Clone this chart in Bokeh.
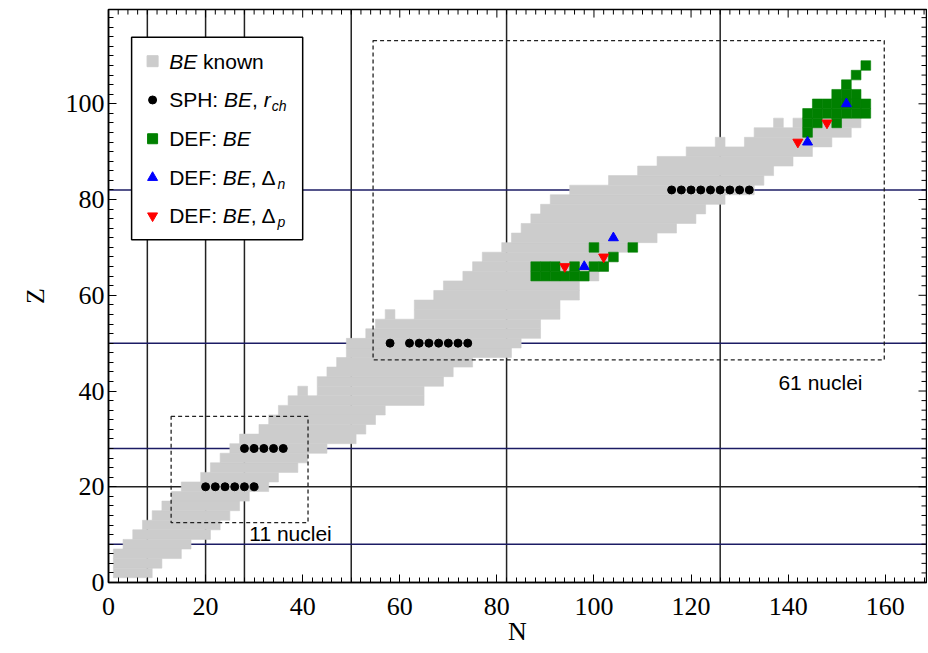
from bokeh.plotting import figure
from bokeh.models import Range1d, SingleIntervalTicker, Label, Span
from bokeh.embed import file_html
from bokeh.resources import INLINE

# ---------------- data ----------------
# known binding energies (even-even): one row per Z, N from band_Nmin to band_Nmax
band_Z = [2, 4, 6, 8, 10, 12, 14, 16, 18, 20, 22, 24, 26, 28, 30, 32, 34, 36, 38, 40,
          42, 44, 46, 48, 50, 52, 54, 56, 58, 60, 62, 64, 66, 68, 70, 72, 74, 76, 78, 80,
          82, 84, 86, 88, 90, 92, 94, 96]
band_Nmin = [2, 2, 2, 4, 6, 8, 10, 12, 14, 16, 20, 22, 24, 26, 28, 32, 34, 36, 38, 44,
             44, 46, 48, 50, 50, 54, 56, 64, 64, 68, 70, 74, 76, 78, 82, 84, 86, 88, 90, 92,
             96, 104, 110, 114, 120, 132, 134, 142]
band_Nmax = [8, 10, 14, 16, 20, 22, 24, 26, 28, 32, 34, 38, 40, 44, 50, 52, 54, 56, 64, 64,
             68, 70, 74, 82, 84, 88, 88, 92, 92, 96, 96, 100, 102, 104, 106, 112, 116, 120, 122, 126,
             132, 134, 136, 140, 144, 148, 152, 154]
# isolated known nuclei off the rows above
extra_N = [40, 58, 126, 138]
extra_Z = [40, 56, 92, 96]

# SPH: BE, r_ch
sph_N = [20, 22, 24, 26, 28, 30,
         28, 30, 32, 34, 36,
         58, 62, 64, 66, 68, 70, 72, 74,
         116, 118, 120, 122, 124, 126, 128, 130, 132]
sph_Z = [20] * 6 + [28] * 5 + [50] * 8 + [82] * 9

# DEF: BE
def_N = [88, 90, 92, 94, 96, 98,
         88, 90, 92, 96, 100, 102,
         104,
         100, 108,
         144,
         144, 146, 150,
         144, 146, 148, 150, 152, 154, 156,
         146, 148, 150, 152, 154, 156,
         150, 152, 154,
         152, 154, 156]
def_Z = ([64] * 6 + [66] * 6 + [68] + [70] * 2 + [94] + [96] * 3 + [98] * 7 +
         [100] * 6 + [102] * 3 + [104, 106, 108])

# DEF: BE, Delta_n  and  DEF: BE, Delta_p
dn_N = [98, 104, 144, 152]
dn_Z = [66, 72, 92, 100]
dp_N = [94, 102, 142, 148]
dp_Z = [66, 68, 92, 96]

# magic numbers
magic_N = [8, 20, 28, 50, 82, 126]
magic_Z_navy = [8, 28, 50, 82]
magic_Z_black = [20]

# fitted regions
box_left = [12.9, 54.5]
box_right = [41.1, 159.8]
box_bottom = [12.5, 46.5]
box_top = [34.7, 113.2]
box_labels = ["11 nuclei", "61 nuclei"]

TICK_STEP = 20
MINOR_STEP = 2

# ---------------- figure ----------------
X_MAX, Y_MAX = 168.5, 119.7
FRAME_W, FRAME_H = 818, 569
p = figure(width=927, height=648, x_range=Range1d(0, X_MAX), y_range=Range1d(0, Y_MAX),
           output_backend="svg", toolbar_location=None,
           min_border_left=108, min_border_right=1, min_border_top=9, min_border_bottom=60,
           background_fill_color="white", border_fill_color="white")
p.grid.visible = False
p.outline_line_color = "black"
p.outline_line_width = 1.5

for ax in (p.xaxis[0], p.yaxis[0]):
    ax.ticker = SingleIntervalTicker(interval=TICK_STEP, num_minor_ticks=TICK_STEP // MINOR_STEP)
    ax.major_tick_in = 8
    ax.major_tick_out = 0
    ax.minor_tick_in = 5
    ax.minor_tick_out = 0
    ax.axis_line_width = 1.5
    ax.axis_line_color = "black"
    ax.major_tick_line_color = "black"
    ax.minor_tick_line_color = "black"
    ax.major_tick_line_width = 1
    ax.minor_tick_line_width = 1
    ax.major_label_text_font = "Liberation Serif"
    ax.major_label_text_font_size = "26px"
    ax.major_label_text_color = "black"
    ax.axis_label_text_font = "Liberation Serif"
    ax.axis_label_text_font_size = "26px"
    ax.axis_label_text_font_style = "normal"
    ax.axis_label_text_color = "black"

p.xaxis.axis_label = "N"
p.yaxis.axis_label = "Z"
p.xaxis.major_label_standoff = 15
p.xaxis.axis_label_standoff = -1
p.yaxis.major_label_standoff = 4
p.yaxis.axis_label_standoff = 13

# mirrored inward ticks on the top and right frame edges
px_per_x = FRAME_W / X_MAX
px_per_y = FRAME_H / Y_MAX
top_x = list(range(0, int(X_MAX) + 1, MINOR_STEP))
top_len = [(8 if v % TICK_STEP == 0 else 5) / px_per_y for v in top_x]
p.segment(x0=top_x, y0=[Y_MAX] * len(top_x), x1=top_x, y1=[Y_MAX - l for l in top_len],
          line_color="black", line_width=1)
right_y = list(range(0, int(Y_MAX) + 1, MINOR_STEP))
right_len = [(8 if v % TICK_STEP == 0 else 5) / px_per_x for v in right_y]
p.segment(x0=[X_MAX] * len(right_y), y0=right_y, x1=[X_MAX - l for l in right_len], y1=right_y,
          line_color="black", line_width=1)

# magic-number lines (under everything)
for n in magic_N:
    p.add_layout(Span(location=n, dimension="height", line_color="#222222",
                      line_width=1.5, level="underlay"))
for z in magic_Z_navy:
    p.add_layout(Span(location=z, dimension="width", line_color="#1c1c64",
                      line_width=1.5, level="underlay"))
for z in magic_Z_black:
    p.add_layout(Span(location=z, dimension="width", line_color="#222222",
                      line_width=1.5, level="underlay"))

GREY = "#cccccc"
# known BE band
p.quad(left=[n - 1 for n in band_Nmin], right=[n + 1 for n in band_Nmax],
       bottom=[z - 1 for z in band_Z], top=[z + 1 for z in band_Z],
       fill_color=GREY, line_color=GREY, line_width=0.6)
p.rect(x=extra_N, y=extra_Z, width=2, height=2, fill_color=GREY, line_color=GREY, line_width=0.6)

# dashed fit regions
p.quad(left=box_left, right=box_right, bottom=box_bottom, top=box_top,
       fill_alpha=0, line_color="#222222", line_width=1.3, line_dash="4 3")

# DEF BE cells
GREEN = "#008000"
p.rect(x=def_N, y=def_Z, width=2, height=2, fill_color=GREEN, line_color=GREEN, line_width=0.6)

# SPH points
p.scatter(x=sph_N, y=sph_Z, marker="circle", size=8, fill_color="black", line_color="black")

# triangles
p.scatter(x=dn_N, y=dn_Z, marker="triangle", size=10, fill_color="#0000ff", line_color="#0000ff")
p.scatter(x=dp_N, y=dp_Z, marker="inverted_triangle", size=10, fill_color="#ff0000", line_color="#ff0000")

# box labels
box_text_N = [29.0, 138.0]
box_text_Z = [10.3, 41.8]
for t, n, z in zip(box_labels, box_text_N, box_text_Z):
    p.add_layout(Label(x=n, y=z, text=t, text_font="Liberation Sans", text_font_size="21px",
                       text_color="black", text_align="left", text_baseline="middle"))

# ---------------- legend (drawn by hand to allow italics/subscripts) ----------------
leg_left, leg_right, leg_bottom, leg_top = 4.76, 40.0, 71.6, 113.9
p.quad(left=[leg_left], right=[leg_right], bottom=[leg_bottom], top=[leg_top],
       fill_color="white", line_color="black", line_width=1.5)

leg_marker_N = 9.08
leg_text_N = 12.5
leg_rows_Z = [108.9, 100.8, 92.7, 84.6, 76.6]

p.scatter(x=[leg_marker_N], y=[leg_rows_Z[0]], marker="square", size=11, fill_color=GREY, line_color=GREY)
p.scatter(x=[leg_marker_N], y=[leg_rows_Z[1]], marker="circle", size=8, fill_color="black", line_color="black")
p.scatter(x=[leg_marker_N], y=[leg_rows_Z[2]], marker="square", size=10, fill_color=GREEN, line_color=GREEN)
p.scatter(x=[leg_marker_N], y=[leg_rows_Z[3]], marker="triangle", size=10, fill_color="#0000ff", line_color="#0000ff")
p.scatter(x=[leg_marker_N], y=[leg_rows_Z[4]], marker="inverted_triangle", size=10, fill_color="#ff0000", line_color="#ff0000")

W = {' ': 278, ',': 278, ':': 278, 'B': 667, 'E': 667, 'k': 500, 'n': 556, 'o': 556,
     'w': 722, 'S': 667, 'P': 667, 'H': 722, 'r': 333, 'c': 500, 'h': 556, 'D': 722,
     'F': 611, 'p': 556, 'Δ': 668}

def tw(s, size):
    return sum(W.get(c, 556) for c in s) / 1000.0 * size

FS = 21
SUB = 14
legend_rows = [
    [("BE", "italic", False), (" known", "normal", False)],
    [("SPH: ", "normal", False), ("BE", "italic", False), (", ", "normal", False),
     ("r", "italic", False), ("ch", "italic", True)],
    [("DEF: ", "normal", False), ("BE", "italic", False)],
    [("DEF: ", "normal", False), ("BE", "italic", False), (", Δ", "normal", False),
     ("n", "italic", True)],
    [("DEF: ", "normal", False), ("BE", "italic", False), (", Δ", "normal", False),
     ("p", "italic", True)],
]
for z, pieces in zip(leg_rows_Z, legend_rows):
    off = 0.0
    for txt, style, sub in pieces:
        size = SUB if sub else FS
        lead = len(txt) - len(txt.lstrip(" "))
        shown = txt.strip(" ")
        dx = off + tw(" " * lead, size) + (1 if sub else 0)
        p.add_layout(Label(x=leg_text_N, y=z, text=shown, x_offset=dx,
                           y_offset=-6 if sub else 0,
                           text_font="Liberation Sans", text_font_size=f"{size}px",
                           text_font_style=style, text_color="black",
                           text_align="left", text_baseline="middle"))
        off += tw(txt, size)

open("out.html", "w").write(file_html(p, INLINE))
